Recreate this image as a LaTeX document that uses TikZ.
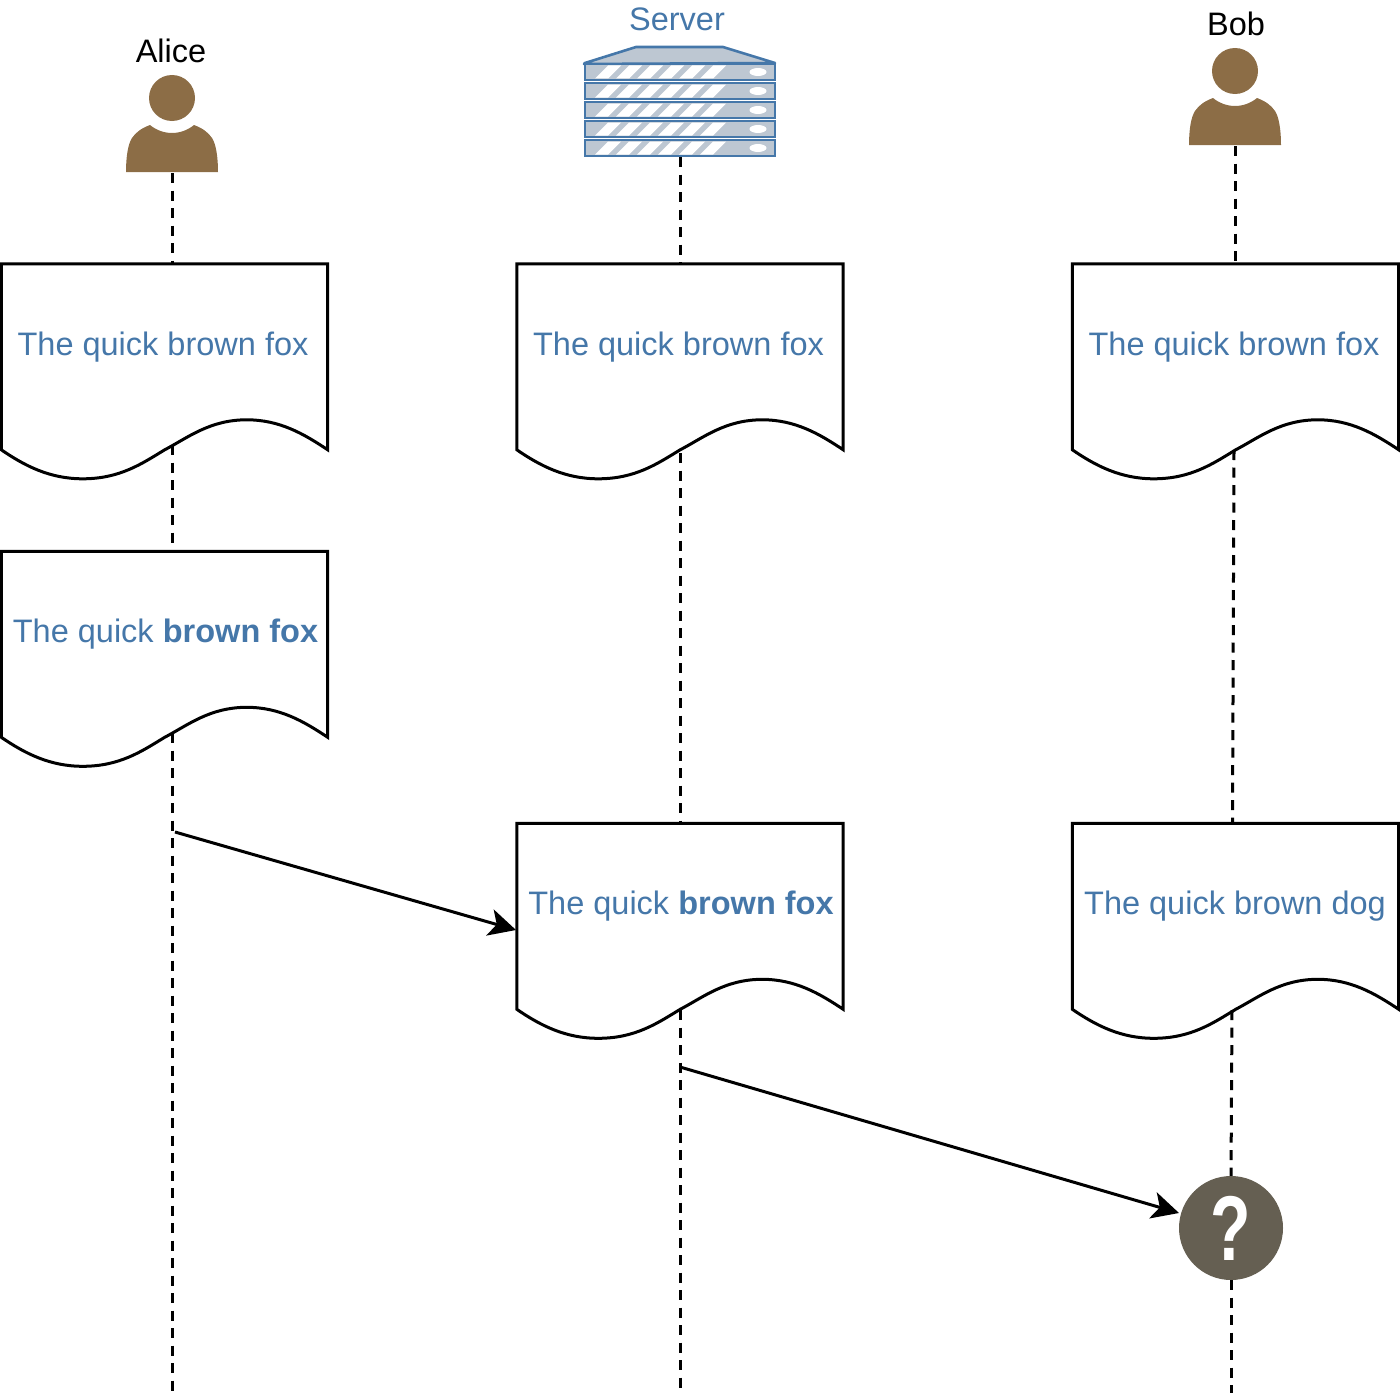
\documentclass[tikz,border=0pt]{standalone}
\usepackage{fontspec}
\usepackage{graphicx}
\setmainfont{Liberation Sans}
\usetikzlibrary{arrows.meta,calc}
\definecolor{srvblue}{HTML}{4577A9}
\definecolor{srvgrey}{HTML}{BDC7D2}
\definecolor{persbrown}{HTML}{8C6D46}
\definecolor{qmark}{HTML}{655F52}
\tikzset{
  doctextstyle/.style={rectangle,draw=none,inner sep=0pt,minimum width=326pt,minimum height=160pt,text=srvblue,font=\fontsize{32.5}{36}\selectfont,align=center},
  docline/.style={draw=black,line width=3pt,line join=miter},
  lifeline/.style={draw=black,line width=3pt,dash pattern=on 10pt off 7.5pt},
  message/.style={draw=black,line width=3pt,-{Stealth[length=27pt,width=27pt,inset=7pt]}},
  person/.style={fill=persbrown,draw=none},
  anchorbox/.style={rectangle,draw=none,inner sep=0pt},
  titletext/.style={inner sep=0pt,font=\fontsize{32.5}{36}\selectfont},
  rack/.style={fill=srvgrey,draw=srvblue,line width=2.6pt},
}
% [text x offset], name, x, y of box centre, text
\newcommand{\docshape}[5][-1.5]{%
  \node[doctextstyle] (#2) at (#3,#4) {};
  \draw[docline] (#2.north west) -- (#2.north east) -- ($(#2.north east)+(0,186)$)
    .. controls ($(#2.north east)+(-24,170)$) and ($(#2.north east)+(-48,156)$) .. ($(#2.north east)+(-81,156)$)
    .. controls ($(#2.north east)+(-118,156)$) and ($(#2.north east)+(-140,174)$) .. ($(#2.north east)+(-163,186)$)
    .. controls ($(#2.north east)+(-186,200)$) and ($(#2.north east)+(-208,215)$) .. ($(#2.north east)+(-245,215)$)
    .. controls ($(#2.north east)+(-278,215)$) and ($(#2.north east)+(-303,202)$) .. ($(#2.north west)+(0,186)$)
    -- cycle;
  \node[doctextstyle,minimum width=0pt,minimum height=0pt] (#2text) at ($(#2.center)+(#1,3)$) {#5};
}
\newcommand{\personicon}[3]{%
  \node[anchorbox,minimum width=92pt,minimum height=82pt] (#1) at (#2,#3) {};
  \begin{scope}[shift={(#2,#3)}]
    \fill[person] (0,-34) circle (23);
    \fill[person] (-46,40) .. controls (-46,25) and (-44,12) .. (-40,6)
      .. controls (-36,0) and (-30,-4) .. (-22,-7)
      .. controls (-16,-2) and (-8,1) .. (0,1)
      .. controls (8,1) and (16,-2) .. (22,-7)
      .. controls (30,-4) and (36,0) .. (40,6)
      .. controls (44,12) and (46,25) .. (46,40) -- cycle;
  \end{scope}
}
\newcommand{\rackunit}[1]{%
  \draw[rack] (585,#1) rectangle (775,#1+16);
  \foreach \sx in {0,21,...,105}{
    \fill[white] (595+\sx,#1+14.5) -- (608+\sx,#1+1.5) -- (621+\sx,#1+1.5) -- (608+\sx,#1+14.5) -- cycle;
  }
  \fill[white] (758,#1+8) ellipse (8.5 and 4);
}
\begin{document}
\begin{tikzpicture}[x=1pt,y=-1pt]
\useasboundingbox (0,0) rectangle (1400,1397);
% people
\node[titletext,text=black] (alicelabel) at (171,51) {Alice};
\personicon{alice}{172}{132}
\node[titletext,text=black] (boblabel) at (1236,24) {Bob};
\personicon{bob}{1235}{105}
% server
\node[titletext,text=srvblue] (serverlabel) at (677,19) {Server};
\node[anchorbox,minimum width=192pt,minimum height=111pt] (server) at (680,101.5) {};
\draw[rack,line join=round] (584,64) -- (585,63) -- (636,47) -- (723,47) -- (775,63) -- cycle;
\rackunit{64}
\rackunit{83}
\rackunit{102}
\rackunit{121}
\rackunit{140}
% documents
\docshape{aliceone}{164.5}{344}{The quick brown fox}
\docshape[1]{alicetwo}{164.5}{631.5}{The quick \textbf{brown fox}}
\docshape{serverone}{680}{344}{The quick brown fox}
\docshape[1]{servertwo}{680}{903.5}{The quick \textbf{brown fox}}
\docshape{bobone}{1235.5}{344}{The quick brown fox}
\docshape[-0.5]{bobtwo}{1235.5}{903.5}{The quick brown dog}
% unknown
\node[circle,fill=qmark,draw=none,minimum size=104pt,inner sep=0pt,text=white,font=\bfseries\fontsize{92}{92}\selectfont] (unknown) at (1231,1228) {\scalebox{.72}[1]{?}};
% free ends
\coordinate (aliceA) at (172,264);
\coordinate (aliceB) at (172,445);
\coordinate (aliceC) at (172,551);
\coordinate (aliceD) at (172,733);
\coordinate (aliceE) at (172,1393);
\coordinate (serverA) at (680,264);
\coordinate (serverB) at (680,453);
\coordinate (serverC) at (680,823);
\coordinate (serverD) at (680,1010);
\coordinate (serverE) at (680,1393);
\coordinate (bobA) at (1235,264);
\coordinate (bobB) at (1234,450);
\coordinate (bobC) at (1232.5,823);
\coordinate (bobD) at (1232,1010);
\coordinate (bobE) at (1231,1393);
\coordinate (msgA) at (175,832);
\coordinate (msgAend) at (516,930);
\coordinate (msgB) at (680,1067);
\coordinate (msgBend) at (1179,1213);
% lifelines
\draw[lifeline] (alice.south) -- (aliceA);
\draw[lifeline] (aliceB) -- (aliceC);
\draw[lifeline] (aliceD) -- (aliceE);
\draw[lifeline] (server.south) -- (serverA);
\draw[lifeline] (serverB) -- (serverC);
\draw[lifeline] (serverD) -- (serverE);
\draw[lifeline] (bob.south) -- (bobA);
\draw[lifeline] (bobB) -- (bobC);
\draw[lifeline] (bobD) -- (unknown.north);
\draw[lifeline] (unknown.south) -- (bobE);
% messages
\draw[message] (msgA) -- (msgAend);
\draw[message] (msgB) -- (msgBend);
\end{tikzpicture}
\end{document}
